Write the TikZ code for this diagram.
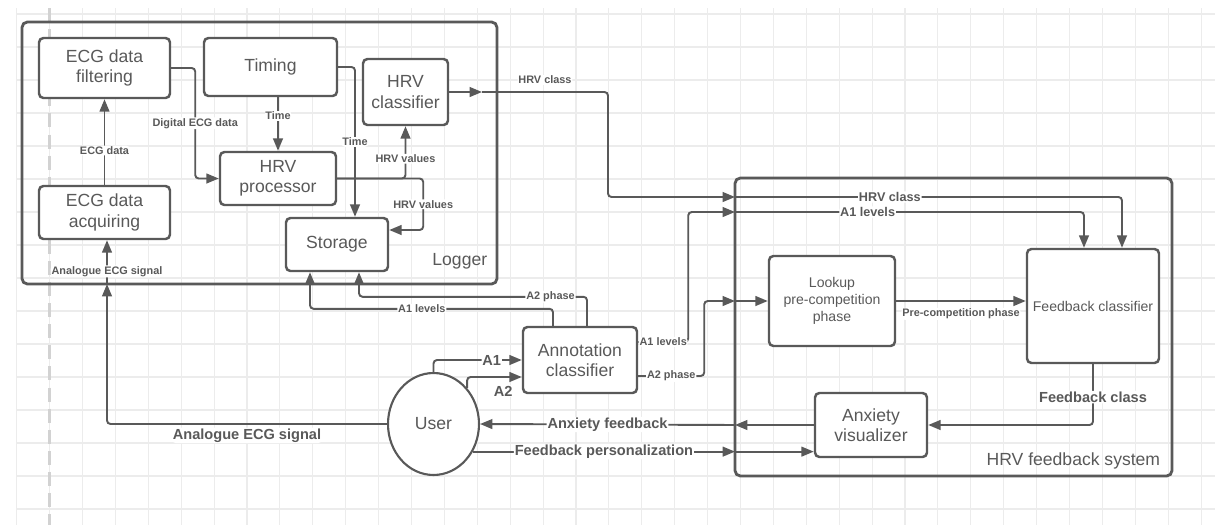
\documentclass[tikz,border=0pt]{standalone}
\usepackage{fontspec}
\setmainfont{Liberation Sans}
\usetikzlibrary{arrows.meta,shapes.geometric,calc}
\definecolor{ink}{HTML}{595959}
\definecolor{gridgray}{HTML}{ECECEC}
\definecolor{gridmid}{HTML}{DEDEDE}

\begin{document}
\begin{tikzpicture}[x=0.02cm, y=-0.02cm, font=\fontsize{10}{11.5}\selectfont, every node/.style={text=ink},
	box/.style={draw=ink, line width=1.4pt, rounded corners=2.5pt, fill=white, align=center, inner sep=1pt},
	frame/.style={draw=ink, line width=1.6pt, rounded corners=3pt},
	conn/.style={draw=ink, line width=1.1pt, rounded corners=2pt, -{Triangle[length=7pt,width=5.5pt]}},
	lbl/.style={fill=white, inner sep=0.5pt, font=\bfseries\fontsize{6.2}{7}\selectfont},
	lblm/.style={lbl, font=\bfseries\fontsize{7.2}{8}\selectfont},
	lblb/.style={lbl, font=\bfseries\fontsize{8.3}{9}\selectfont},
	gridline/.style={draw=gridgray, line width=0.6pt}]
	\useasboundingbox (0,0) rectangle (1215,525);
	\fill[white] (0,0) rectangle (1215,525);
	% background grid
	\foreach \gx in {0,...,36}
		\draw[gridline] ({16.7+32.9*\gx},8) -- ({16.7+32.9*\gx},525);
	\foreach \gy in {0,...,15}
		\draw[gridline] (16.7,{14+33*\gy}) -- (1215,{14+33*\gy});
	\draw[gray!35, line width=1.5pt, dash pattern=on 8pt off 4pt] (49.6,8) -- (49.6,525);

	% containers
	\node[frame, minimum width=9.5cm, minimum height=5.24cm] (logger) at (259.5,153) {};
	\node[anchor=south east] (loggerlbl) at ($(logger.south east)+(-5,-10)$) {Logger};
	\node[frame, minimum width=8.74cm, minimum height=5.96cm] (hrvfs) at (953.5,327) {};
	\node[anchor=south east] (hrvfslbl) at ($(hrvfs.south east)+(-7,-2)$) {HRV feedback system};

	% blocks
	\node[box, minimum width=2.62cm, minimum height=1.2cm] (filtering) at (104.5,68) {ECG data\\filtering};
	\node[box, minimum width=2.66cm, minimum height=1.16cm] (timing) at (270.5,67) {Timing};
	\node[box, minimum width=1.7cm, minimum height=1.32cm] (hrvcls) at (405.5,92) {HRV\\classifier};
	\node[box, minimum width=2.32cm, minimum height=1.06cm] (hrvproc) at (278,178.5) {HRV\\processor};
	\node[box, minimum width=2.62cm, minimum height=1.06cm] (acquiring) at (104.5,212.5) {ECG data\\acquiring};
	\node[box, minimum width=2.04cm, minimum height=1.06cm] (storage) at (337,244.5) {Storage};
	\node[box, minimum width=2.28cm, minimum height=1.32cm] (annot) at (580,360) {Annotation\\classifier};
	\node[ellipse, draw=ink, line width=1.2pt, fill=white, minimum width=1.82cm, minimum height=2.04cm, inner sep=0pt] (user) at (433.5,424) {User};
	\node[box, minimum width=2.52cm, minimum height=1.8cm, font=\fontsize{8}{9.7}\selectfont] (lookup) at (832,301) {Lookup\\pre-competition\\phase};
	\node[box, minimum width=2.64cm, minimum height=2.28cm, font=\fontsize{8}{9.7}\selectfont] (fbcls) at (1093,306) {Feedback classifier};
	\node[box, minimum width=2.24cm, minimum height=1.28cm] (anxvis) at (871,425) {Anxiety\\visualizer};

	% border points
	\coordinate (lgin) at (107,284);
	\coordinate (hcout) at (482,92);
	\coordinate (fsin1) at (735,197);
	\coordinate (fsin2) at (735,212);
	\coordinate (fsin3) at (735,301);
	\coordinate (fsout) at (735,425);
	\coordinate (fsin4) at (735,452);

	% logger flows
	\draw[conn] (acquiring) -- node[lbl, pos=0.4]{ECG data} (filtering);
	\draw[conn] (user.west) -| node[lblb, below, pos=0.25, yshift=-1.5pt]{Analogue ECG signal} (lgin);
	\draw[conn] (lgin) -- node[lbl, pos=0.29]{Analogue ECG signal} (lgin |- acquiring.south);
	\draw[conn] (filtering.east) -- ++(24,0) |- node[lbl, pos=0.25]{Digital ECG data} (hrvproc.west);
	\draw[conn] (hrvproc.north |- timing.south) -- node[lbl, pos=0.35]{Time} (hrvproc.north);
	\draw[conn] (timing.east) -| node[lbl, pos=0.75]{Time} ($(storage.north)+(18,0)$);
	\draw[conn] (hrvproc.east) -| node[lbl, pos=0.69]{HRV values} (hrvcls.south);
	\draw[conn] (hrvproc.east) -- ++(86,0) |- node[lbl, pos=0.25]{HRV values} ($(storage.east)+(0,-14.5)$);
	\draw[conn] (hrvcls.east) -- (hcout);
	\draw[conn] (hcout) -- node[lbl, above, yshift=3.5pt]{HRV class} ++(126,0) |- (fsin1);

	% annotation flows
	\draw[conn] (user.north) |- node[lblb, pos=0.83]{A1} (annot.west);
	\draw[conn] (user.47) |- node[lblb, below, pos=0.83, yshift=-4pt]{A2} ($(annot.west)+(0,17)$);
	\draw[conn] ($(annot.north)+(-27,0)$) -- ++(0,-17) -| node[lbl, pos=0.27]{A1 levels} ($(storage.south)+(-27,0)$);
	\draw[conn] ($(annot.north)+(7,0)$) -- ++(0,-29) -| node[lbl, pos=0.08]{A2 phase} ($(storage.south)+(22,0)$);
	\draw[conn] ($(annot.east)+(0,-18)$) -- node[lbl]{A1 levels} ++(50,0) |- (fsin2);
	\draw[conn] ($(annot.east)+(0,16)$) -- node[lbl]{A2 phase} ++(66,0) |- (fsin3);

	% feedback system flows
	\draw[conn] (fsin1) -| node[lblm, pos=0.2]{HRV class} ($(fbcls.north)+(29,0)$);
	\draw[conn] (fsin2) -| node[lblm, pos=0.19]{A1 levels} ($(fbcls.north)+(-9,0)$);
	\draw[conn] (fsin3) -- (lookup.west);
	\draw[conn] (lookup.east) -- node[lbl, below, yshift=-3.4pt]{Pre-competition phase} (fbcls.west |- lookup.east);
	\draw[conn] (fbcls.south) |- node[lblb, pos=0.27]{Feedback class} (anxvis.east);
	\draw[conn] (anxvis.west) -- (fsout);
	\draw[conn] (fsout) -- node[lblb]{Anxiety feedback} (user.east);
	\draw[conn] (user.-35) -- node[lblb]{Feedback personalization} (user.-35 -| fsin4);
	\draw[conn] (user.-35 -| fsin4) -- (user.-35 -| anxvis.west);
\end{tikzpicture}
\end{document}
